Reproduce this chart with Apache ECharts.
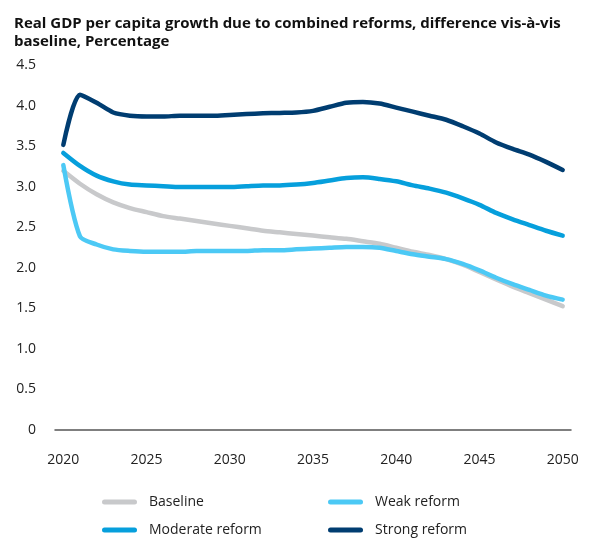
<!DOCTYPE html>
<html>
<head>
<meta charset="utf-8">
<script src="https://cdn.jsdelivr.net/npm/echarts@6/dist/echarts.min.js"></script>
<style>html,body{margin:0;padding:0;background:#fff}#chart{width:595px;height:538px}</style>
</head>
<body>
<div id="chart"></div>
<script>
const years = [];
for (let y = 2020; y <= 2050; y++) years.push(String(y));
const baseline = [3.20,3.04,2.91,2.81,2.74,2.69,2.64,2.61,2.58,2.55,2.52,2.49,2.46,2.44,2.42,2.40,2.38,2.36,2.33,2.30,2.25,2.20,2.16,2.11,2.04,1.95,1.86,1.77,1.69,1.61,1.53];
const weak = [3.27,2.39,2.29,2.23,2.21,2.20,2.20,2.20,2.21,2.21,2.21,2.21,2.22,2.22,2.23,2.24,2.25,2.26,2.26,2.25,2.21,2.17,2.14,2.11,2.05,1.97,1.88,1.80,1.73,1.66,1.61];
const moderate = [3.42,3.26,3.14,3.07,3.03,3.02,3.01,3.00,3.00,3.00,3.00,3.01,3.02,3.02,3.03,3.05,3.08,3.11,3.12,3.10,3.07,3.02,2.98,2.93,2.86,2.78,2.68,2.60,2.53,2.46,2.40];
const strong = [3.52,4.14,4.04,3.92,3.88,3.87,3.87,3.88,3.88,3.88,3.89,3.90,3.91,3.915,3.92,3.94,3.99,4.04,4.05,4.03,3.98,3.93,3.88,3.83,3.75,3.66,3.55,3.47,3.40,3.31,3.21];
const yTicks = ['0','0.5','1.0','1.5','2.0','2.5','3.0','3.5','4.0','4.5'];

const colors = {Baseline:'#c8c9cb','Weak reform':'#4cc9f5','Moderate reform':'#069fdc','Strong reform':'#003d71'};
const icon = 'path://M0,0 h30 a2.5,2.5 0 0 1 0,5 h-30 a2.5,2.5 0 0 1 0,-5 z';
const font = '"Open Sans", "Noto Sans", sans-serif';
function mk(name, data){
  return {name, type:'line', data, symbol:'none', smooth:0.25,
    lineStyle:{width:4.5, color:colors[name], cap:'round', join:'round'},
    itemStyle:{color:colors[name]}};
}
function lg(name, left, top){
  return {orient:'horizontal', left, top, padding:0, itemWidth:35, itemHeight:5, icon:icon,
    data:[name], textStyle:{fontSize:14, color:'#222', fontFamily:font, padding:[0,0,0,7]}};
}
const chart = echarts.init(document.getElementById('chart'));
chart.setOption({
  animation:false,
  title:{text:'Real GDP per capita growth due to combined reforms, difference vis-à-vis\nbaseline, Percentage',
    left:9, top:10, textStyle:{fontSize:15, fontWeight:'bold', color:'#111', fontFamily:font, lineHeight:18}},
  legend:[lg('Baseline',102,495), lg('Weak reform',328,495), lg('Moderate reform',102,523), lg('Strong reform',328,523)],
  grid:{left:55, right:24, top:65.5, bottom:108},
  xAxis:{type:'category', data:years, boundaryGap:true,
    axisLine:{lineStyle:{color:'#555', width:1.5}}, axisTick:{show:false},
    axisLabel:{interval:4, fontSize:14, color:'#222', fontFamily:font, margin:23}},
  yAxis:{type:'value', min:0, max:4.5, interval:0.5, splitLine:{show:false},
    axisLine:{show:false}, axisTick:{show:false},
    axisLabel:{fontSize:14, color:'#222', fontFamily:font, margin:19,
      formatter:(v)=>yTicks[Math.round(v/0.5)]}},
  series:[mk('Baseline',baseline), mk('Weak reform',weak), mk('Moderate reform',moderate), mk('Strong reform',strong)]
});
</script>
</body>
</html>
